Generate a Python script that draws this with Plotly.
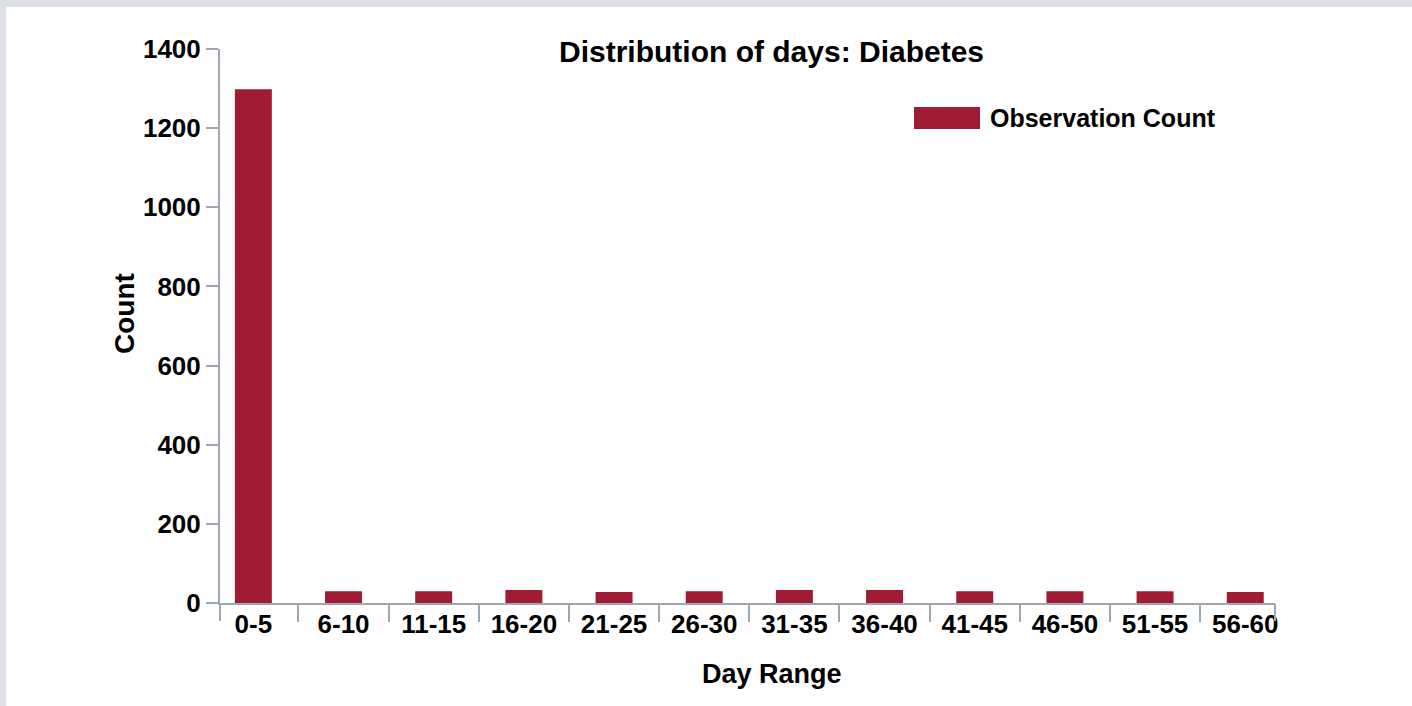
import plotly.graph_objects as go

categories = ["0-5", "6-10", "11-15", "16-20", "21-25", "26-30",
              "31-35", "36-40", "41-45", "46-50", "51-55", "56-60"]
observation_count = [1298, 30, 30, 33, 28, 30, 33, 33, 30, 30, 30, 28]
y_ticks = [0, 200, 400, 600, 800, 1000, 1200, 1400]

W, H = 1412, 706
L, R, T, B = 220, 137, 49, 103
PW, PH = W - L - R, H - T - B

def px2x(px):
    return (px - L) / PW

def py2y(py):
    return (H - B - py) / PH

FONT = "Liberation Sans, Arial, sans-serif"
AXIS_COLOR = "#9fa8b0"
BAR_COLOR = "#a01c34"
FRAME = "#dde0e4"

fig = go.Figure()
fig.add_trace(go.Bar(
    x=categories, y=observation_count, name="Observation Count",
    marker=dict(color=BAR_COLOR, line=dict(width=0)),
    showlegend=False,
))
# helper overlay axis to draw the end ticks of the x axis
fig.add_trace(go.Scatter(x=[], y=[], xaxis="x2", showlegend=False, hoverinfo="skip"))

fig.update_layout(
    width=W, height=H,
    margin=dict(l=L, r=R, t=T, b=B, pad=0),
    paper_bgcolor="white", plot_bgcolor="white",
    bargap=0.59,
    font=dict(family=FONT, color="black", size=26, weight="bold"),
    xaxis=dict(
        type="category", range=[-0.37, len(categories) - 1 + 0.33],
        showline=True, linecolor=AXIS_COLOR, linewidth=2,
        ticks="outside", tickson="boundaries", ticklen=17, tickwidth=2, tickcolor=AXIS_COLOR,
        showgrid=False, zeroline=False,
        tickfont=dict(family=FONT, size=26, color="black", weight="bold"),
        ticklabelstandoff=-3,
    ),
    xaxis2=dict(
        overlaying="x", range=[0, 1], tickvals=[0, 1], showticklabels=False,
        ticks="outside", ticklen=17, tickwidth=2, tickcolor=AXIS_COLOR,
        showline=False, showgrid=False, zeroline=False, side="bottom",
    ),
    yaxis=dict(
        range=[0, 1400], tickvals=y_ticks,
        showline=True, linecolor=AXIS_COLOR, linewidth=2,
        ticks="outside", ticklen=12, tickwidth=2, tickcolor=AXIS_COLOR,
        showgrid=False, zeroline=False,
        tickfont=dict(family=FONT, size=26, color="black", weight="bold"),
    ),
    shapes=[
        dict(type="rect", xref="paper", yref="paper", x0=px2x(0), x1=px2x(W),
             y0=py2y(7), y1=py2y(0), fillcolor=FRAME, line=dict(width=0), layer="below"),
        dict(type="rect", xref="paper", yref="paper", x0=px2x(0), x1=px2x(6),
             y0=py2y(H), y1=py2y(0), fillcolor=FRAME, line=dict(width=0), layer="below"),
        # legend swatch
        dict(type="rect", xref="paper", yref="paper", x0=px2x(914), x1=px2x(980),
             y0=py2y(129), y1=py2y(107), fillcolor=BAR_COLOR, line=dict(width=0)),
    ],
    annotations=[
        dict(text="Distribution of days: Diabetes", xref="paper", yref="paper",
             x=px2x(771), y=py2y(52), showarrow=False, xanchor="center", yanchor="middle",
             font=dict(family=FONT, size=30, color="black", weight="bold")),
        dict(text="Day Range", xref="paper", yref="paper",
             x=px2x(772), y=py2y(674), showarrow=False, xanchor="center", yanchor="middle",
             font=dict(family=FONT, size=27, color="black", weight="bold")),
        dict(text="Count", xref="paper", yref="paper", textangle=-90,
             x=px2x(124), y=py2y(314), showarrow=False, xanchor="center", yanchor="middle",
             font=dict(family=FONT, size=28, color="black", weight="bold")),
        dict(text="Observation Count", xref="paper", yref="paper",
             x=px2x(988), y=py2y(118), showarrow=False, xanchor="left", yanchor="middle",
             font=dict(family=FONT, size=25, color="black", weight="bold")),
    ],
)

fig.write_html(
    "out.html",
    config={"displayModeBar": False},
    post_script="document.body.style.margin='0';document.body.style.overflow='hidden';",
)
